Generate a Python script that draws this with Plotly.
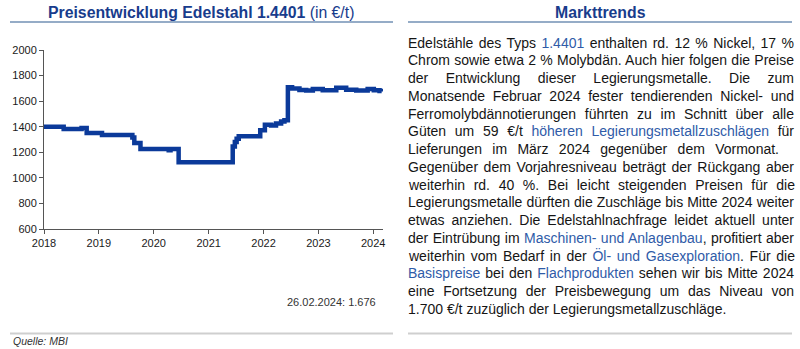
import json
import plotly.graph_objects as go

# Edelstahl 1.4401 price series (€/t), step changes
dates = [
    "2018-01-01", "2018-05-12", "2018-09-08", "2018-10-12", "2019-01-22",
    "2019-08-12", "2019-08-25", "2019-10-05", "2020-04-10", "2020-04-22",
    "2020-06-15", "2021-06-10", "2021-06-24", "2021-07-06", "2021-07-20",
    "2021-12-10", "2022-01-10", "2022-02-20", "2022-03-25", "2022-04-28",
    "2022-05-20", "2022-06-12", "2022-07-10", "2022-08-28", "2022-10-12",
    "2022-11-25", "2023-01-30", "2023-04-30", "2023-07-05", "2023-09-10",
    "2023-11-25", "2024-01-05", "2024-02-12", "2024-02-26",
]
prices = [
    1400, 1382, 1390, 1350, 1336,
    1315, 1272, 1225, 1215, 1225,
    1123, 1245, 1280, 1305, 1325,
    1372, 1415, 1410, 1425, 1440,
    1450, 1708, 1698, 1688, 1684,
    1695, 1686, 1704, 1690, 1684,
    1695, 1686, 1680, 1676,
]
year_ticks = ["2018", "2019", "2020", "2021", "2022", "2023", "2024"]
y_ticks = [600, 800, 1000, 1200, 1400, 1600, 1800, 2000]

BLUE = "#2f5ba8"
TITLE_BLUE = "#183c8c"

def link(s):
    return f'<span style="color:{BLUE}">{s}</span>'

text_lines = [
    f"Edelstähle des Typs {link('1.4401')} enthalten rd. 12 % Nickel, 17 %",
    "Chrom sowie etwa 2 % Molybdän. Auch hier folgen die Preise",
    "der Entwicklung dieser Legierungsmetalle. Die zum",
    "Monatsende Februar 2024 fester tendierenden Nickel- und",
    "Ferromolybdännotierungen führten zu im Schnitt über alle",
    f"Güten um 59 €/t {link('höheren Legierungsmetallzuschlägen')} für",
    "Lieferungen im März 2024 gegenüber dem Vormonat.",
    "Gegenüber dem Vorjahresniveau beträgt der Rückgang aber",
    "weiterhin rd. 40 %. Bei leicht steigenden Preisen für die",
    "Legierungsmetalle dürften die Zuschläge bis Mitte 2024 weiter",
    "etwas anziehen. Die Edelstahlnachfrage leidet aktuell unter",
    f"der Eintrübung im {link('Maschinen- und Anlagenbau')}, profitiert aber",
    f"weiterhin vom Bedarf in der {link('Öl- und Gasexploration')}. Für die",
    f"{link('Basispreise')} bei den {link('Flachprodukten')} sehen wir bis Mitte 2024",
    "eine Fortsetzung der Preisbewegung um das Niveau von",
    "1.700 €/t zuzüglich der Legierungsmetallzuschläge.",
]
# justified width per line (None = natural width)
line_widths = [386, 386, 386, 386, 386, 386, 371, 386, 386, 386, 386, 386, 386, 386, 386, None]

W, H = 800, 349
M = dict(l=44, r=417, t=50, b=120)
PW = W - M["l"] - M["r"]
PH = H - M["t"] - M["b"]

def px(x):
    return (x - M["l"]) / PW

def py(y):
    return (H - M["b"] - y) / PH

FONT = "Arial, 'Liberation Sans', sans-serif"

fig = go.Figure()
fig.add_trace(go.Scatter(
    x=dates, y=prices, mode="lines", line_shape="hv",
    line=dict(color="#0b3a9a", width=4.5), hoverinfo="skip", showlegend=False,
))

annotations = []
shapes = []

# panel headings
annotations.append(dict(
    x=px(201), y=py(13), xref="paper", yref="paper", xanchor="center", yanchor="middle",
    text="<b>Preisentwicklung Edelstahl 1.4401</b> (in €/t)", showarrow=False,
    font=dict(family=FONT, size=15.8, color=TITLE_BLUE),
))
annotations.append(dict(
    x=px(600), y=py(13), xref="paper", yref="paper", xanchor="center", yanchor="middle",
    text="<b>Markttrends</b>", showarrow=False,
    font=dict(family=FONT, size=15.8, color=TITLE_BLUE),
))
for x0, x1 in [(10, 393), (408, 792)]:
    shapes.append(dict(type="line", xref="paper", yref="paper",
                       x0=px(x0), x1=px(x1), y0=py(22), y1=py(22),
                       line=dict(color="#7290b4", width=1.5)))
    shapes.append(dict(type="line", xref="paper", yref="paper",
                       x0=px(x0), x1=px(x1), y0=py(333.5), y1=py(333.5),
                       line=dict(color="#cfcfcf", width=2)))

# body text
justify = {}
for i, line in enumerate(text_lines):
    justify_idx = len(annotations)
    annotations.append(dict(
        x=px(406.5), y=py(42.7 + i * 17.75), xref="paper", yref="paper",
        xanchor="left", yanchor="middle", align="left", borderpad=0,
        text=line, showarrow=False,
        font=dict(family=FONT, size=14, color="#151515"),
    ))
    if line_widths[i]:
        justify[justify_idx] = line_widths[i]

# last value label
last_date = dates[-1]
y, m, d = last_date.split("-")
last_val = f"{prices[-1]:,}".replace(",", ".")
annotations.append(dict(
    x=px(378), y=py(302), xref="paper", yref="paper", xanchor="right", yanchor="middle",
    text=f"{d}.{m}.{y}: {last_val}", showarrow=False,
    font=dict(family=FONT, size=11, color="#333333"),
))
annotations.append(dict(
    x=px(11), y=py(340.5), xref="paper", yref="paper", xanchor="left", yanchor="middle",
    text="<i>Quelle: MBI</i>", showarrow=False,
    font=dict(family=FONT, size=10.5, color="#333333"),
))

fig.update_layout(
    width=W, height=H, margin=M,
    paper_bgcolor="white", plot_bgcolor="white",
    font=dict(family=FONT, size=11, color="#222222"),
    annotations=annotations, shapes=shapes,
    xaxis=dict(
        type="date", range=["2018-01-01", "2024-03-06"],
        tickvals=[f"{t}-01-01" for t in year_ticks], ticktext=year_ticks,
        showgrid=False, zeroline=False, showline=True, linecolor="#555555", linewidth=1,
        ticks="outside", ticklen=4, tickcolor="#555555",
        tickfont=dict(family=FONT, size=11, color="#1a1a1a"),
    ),
    yaxis=dict(
        range=[600, 2000], tickvals=y_ticks,
        showgrid=False, zeroline=False, showline=True, linecolor="#555555", linewidth=1,
        ticks="outside", ticklen=4, tickcolor="#555555",
        tickfont=dict(family=FONT, size=11, color="#1a1a1a"),
    ),
)

# spread word gaps so that each body line fills its width (justified text)
post = """
var gd = document.getElementById('{plot_id}');
var targets = __TARGETS__;
function justifyLines(){
  Object.keys(targets).forEach(function(k){
    var t = gd.querySelector('.annotation[data-index="' + k + '"] text.annotation-text');
    if (!t) return;
    t.style.wordSpacing = '0px';
    var w = t.getComputedTextLength();
    var n = (t.textContent.match(/[ \\u00a0]/g) || []).length;
    if (n > 0 && targets[k] > w) t.style.wordSpacing = ((targets[k] - w) / n) + 'px';
  });
}
justifyLines();
gd.on('plotly_afterplot', justifyLines);
""".replace("__TARGETS__", json.dumps({str(k): v for k, v in justify.items()}))

fig.write_html("out.html", post_script=post, config={"displayModeBar": False})
